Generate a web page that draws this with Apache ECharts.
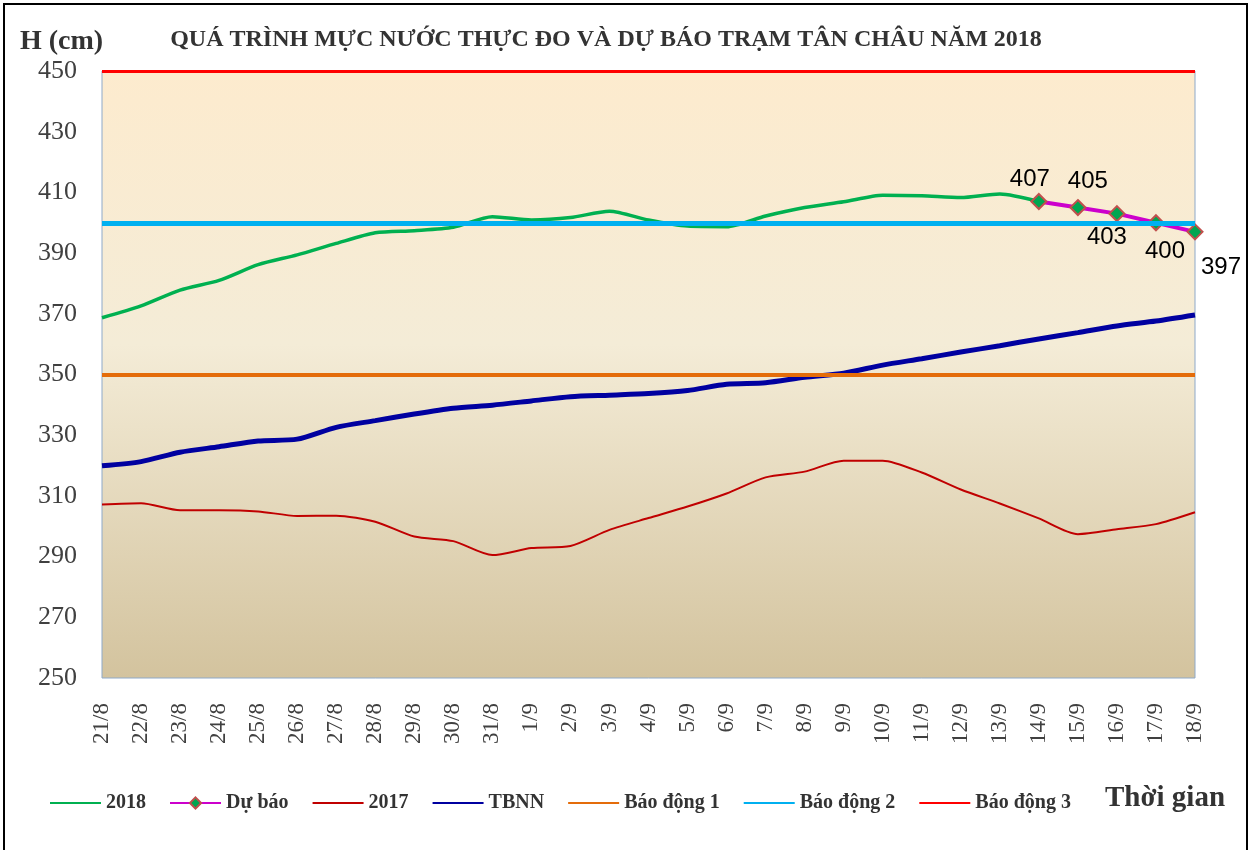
<!DOCTYPE html>
<html>
<head>
<meta charset="utf-8">
<title>Tân Châu 2018</title>
<script src="https://cdn.jsdelivr.net/npm/echarts@6/dist/echarts.min.js"></script>
<style>
  html, body { margin: 0; padding: 0; background: #fff; }
  #chart { width: 1253px; height: 850px; }
</style>
</head>
<body>
<div id="chart"></div>
<script>
// Ngày (trục hoành)
const categories = [
  '21/8', '22/8', '23/8', '24/8', '25/8', '26/8', '27/8', '28/8', '29/8', '30/8', '31/8',
  '1/9', '2/9', '3/9', '4/9', '5/9', '6/9', '7/9', '8/9', '9/9', '10/9', '11/9', '12/9',
  '13/9', '14/9', '15/9', '16/9', '17/9', '18/9'
]

// Mực nước thực đo 2018 (cm)
const h2018 = [
  368.7, 372.6, 377.8, 381.0, 386.2, 389.4, 393.2, 396.7, 397.4, 398.5, 402.0,
  400.9, 401.7, 403.8, 400.9, 398.9, 398.7, 402.2, 405.0, 406.9, 409.1, 408.9, 408.3,
  409.5, 407, null, null, null, null
]

// Dự báo
const forecast = [
  null, null, null, null, null, null, null, null, null, null, null,
  null, null, null, null, null, null, null, null, null, null, null, null,
  null, 407, 405, 403, 400, 397
]

// Mực nước 2017
const h2017 = [
  307.2, 307.6, 305.3, 305.3, 304.9, 303.4, 303.5, 301.5, 296.6, 295.1, 290.5,
  292.8, 293.5, 298.8, 302.7, 306.5, 310.8, 316.1, 318.0, 321.6, 321.6, 317.7, 312.1,
  307.5, 302.6, 297.4, 299.0, 300.7, 304.6
]

// Trung bình nhiều năm
const tbnn = [
  319.9, 321.3, 324.4, 326.2, 328.1, 328.7, 332.6, 334.8, 337.0, 338.9, 339.9,
  341.3, 342.7, 343.2, 343.7, 344.7, 346.8, 347.3, 349.1, 350.4, 353.1, 355.2, 357.4,
  359.5, 361.7, 363.8, 366.0, 367.6, 369.6
]

// Mức báo động 1, 2, 3
const alarmNames = ['Báo động 1', 'Báo động 2', 'Báo động 3']
const alarmLevels = [350, 400, 450]

const serif = '"Liberation Serif", "DejaVu Serif", serif'

// vị trí nhãn dự báo (trên / dưới điểm)
const labelPos = ['top', 'top', 'bottom', 'bottom', 'bottom']
const labelOffset = [[-9, 3], [10, -1], [-10, -2], [9, 3], [26, 10]]

const chart = echarts.init(document.getElementById('chart'))

const firstForecast = forecast.findIndex(x => x !== null)
const forecastData = forecast.map((v, i) => {
  if (v === null) return null
  const k = i - firstForecast
  return { value: v, label: { position: labelPos[k], offset: labelOffset[k] } }
})

const alarmColors = ['#E46C0A', '#00B0F0', '#FF0000']
const alarmWidths = [4, 5, 3]
const alarmSeries = alarmNames.map((name, i) => ({
  name: name,
  type: 'line',
  data: [],
  symbol: 'none',
  color: alarmColors[i],
  lineStyle: { color: alarmColors[i], width: 3 },
  z: 3,
  markLine: {
    silent: true,
    symbol: ['none', 'none'],
    label: { show: false },
    animation: false,
    lineStyle: { color: alarmColors[i], width: alarmWidths[i], type: 'solid' },
    data: [{ yAxis: alarmLevels[i] }]
  }
}))

// chú giải: chỉ hiện đường, riêng "Dự báo" có hình thoi
const noSymbol = name => ({ name: name, itemStyle: { opacity: 0 } })

const option = {
  backgroundColor: '#fff',
  animation: false,
  graphic: [
    {
      type: 'rect',
      shape: { x: 4, y: 4, width: 1243, height: 870 },
      style: { fill: 'none', stroke: '#000', lineWidth: 2 },
      silent: true
    },
    {
      type: 'text',
      style: {
        text: 'QUÁ TRÌNH MỰC NƯỚC THỰC ĐO VÀ DỰ BÁO TRẠM TÂN CHÂU NĂM 2018',
        x: 606, y: 40, textAlign: 'center', textVerticalAlign: 'middle',
        font: 'bold 24px ' + serif, fill: '#333'
      }
    },
    {
      type: 'text',
      style: {
        text: 'H (cm)', x: 20, y: 42, textVerticalAlign: 'middle',
        font: 'bold 28px ' + serif, fill: '#333'
      }
    },
    {
      type: 'text',
      style: {
        text: 'Thời gian', x: 1105, y: 799, textVerticalAlign: 'middle',
        font: 'bold 29px ' + serif, fill: '#333'
      }
    }
  ],
  legend: {
    left: 44,
    top: 788,
    itemWidth: 51,
    itemHeight: 14,
    itemGap: 23,
    textStyle: { fontFamily: serif, fontWeight: 'bold', fontSize: 20, color: '#333' },
    data: [
      noSymbol('2018'),
      { name: 'Dự báo' },
      noSymbol('2017'),
      noSymbol('TBNN')
    ].concat(alarmNames.map(noSymbol))
  },
  grid: {
    left: 102,
    right: 58,
    top: 71,
    bottom: 172,
    show: true,
    borderColor: '#8EA9C9',
    borderWidth: 1,
    backgroundColor: new echarts.graphic.LinearGradient(0, 0, 0, 1, [
      { offset: 0, color: '#FDEBCE' },
      { offset: 0.45, color: '#F4ECD7' },
      { offset: 1, color: '#D3C39E' }
    ])
  },
  xAxis: {
    type: 'category',
    data: categories,
    boundaryGap: false,
    axisLine: { show: false },
    axisTick: { show: false },
    axisLabel: {
      rotate: 90,
      margin: 25,
      interval: 0,
      fontFamily: serif,
      fontSize: 23,
      color: '#404040'
    }
  },
  yAxis: {
    type: 'value',
    min: 250,
    max: 450,
    interval: 20,
    axisLine: { show: false },
    axisTick: { show: false },
    splitLine: { show: false },
    axisLabel: { margin: 25, fontFamily: serif, fontSize: 26, color: '#404040' }
  },
  series: [
    {
      name: '2018',
      type: 'line',
      data: h2018,
      smooth: 0.25,
      symbol: 'none',
      color: '#00B050',
      lineStyle: { color: '#00B050', width: 3.5 },
      z: 2
    },
    {
      name: 'Dự báo',
      type: 'line',
      data: forecastData,
      symbol: 'diamond',
      symbolSize: 15,
      color: '#CC00CC',
      itemStyle: { color: '#00A651', borderColor: '#C0504D', borderWidth: 2 },
      lineStyle: { color: '#CC00CC', width: 4 },
      label: {
        show: true,
        fontFamily: '"Liberation Sans", Arial, sans-serif',
        fontSize: 24,
        color: '#000'
      },
      z: 4
    },
    {
      name: '2017',
      type: 'line',
      data: h2017,
      smooth: 0.25,
      symbol: 'none',
      color: '#C00000',
      lineStyle: { color: '#C00000', width: 2 },
      z: 2
    },
    {
      name: 'TBNN',
      type: 'line',
      data: tbnn,
      smooth: 0.25,
      symbol: 'none',
      color: '#0000A0',
      lineStyle: { color: '#0000A0', width: 5 },
      z: 2
    }
  ].concat(alarmSeries)
}

chart.setOption(option)
</script>
</body>
</html>
